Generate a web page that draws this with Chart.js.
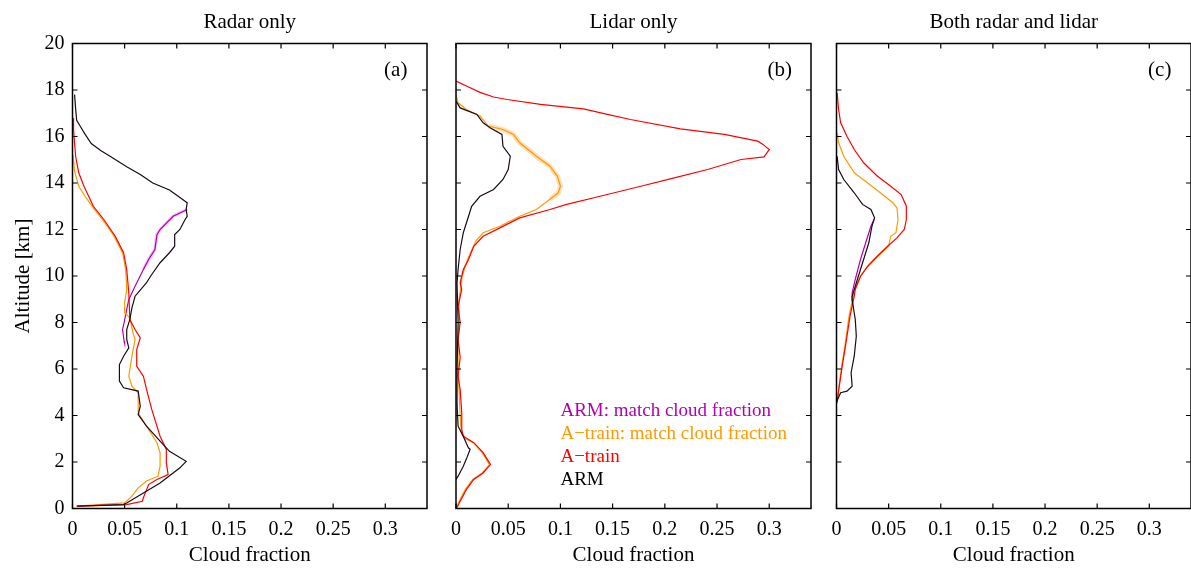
<!DOCTYPE html>
<html>
<head>
<meta charset="utf-8">
<title>Cloud fraction profiles</title>
<script src="https://cdn.jsdelivr.net/npm/chart.js@4.4.1/dist/chart.umd.min.js"></script>
<style>
  html, body { margin: 0; padding: 0; background: #fff; overflow: hidden; width: 1191px; height: 568px; }
  canvas { position: absolute; top: 0; }
</style>
</head>
<body>
<canvas id="radarChart" width="440" height="568" style="left:0px"></canvas>
<canvas id="lidarChart" width="384" height="568" style="left:440px"></canvas>
<canvas id="bothChart" width="384" height="568" style="left:820px"></canvas>
<script>
// Tick values
const altTicks = [0, 2, 4, 6, 8, 10, 12, 14, 16, 18, 20];
const cfTicks = [0, 0.05, 0.1, 0.15, 0.2, 0.25, 0.3];

// (a) Radar only: altitude [km] and cloud fraction
const radarArmAlt = [17.8, 17.2, 16.7, 16.4, 16.1, 15.7, 15.4, 15.15, 14.7, 14.37, 14.0, 13.7, 13.48, 13.15, 12.86, 12.57, 12.43, 12.0, 11.78, 11.28, 11.0, 10.57, 10.0, 9.71, 9.13, 8.63, 8.13, 7.7, 7.27, 6.91, 6.55, 6.19, 5.48, 5.19, 5.05, 4.4, 4.04, 3.54, 2.9, 2.46, 2.03, 1.75, 1.53, 1.1, 0.67, 0.24, 0.17, 0.1];
const radarArmCf = [0.002, 0.003, 0.004, 0.008, 0.012, 0.018, 0.027, 0.036, 0.052, 0.065, 0.077, 0.093, 0.0997, 0.110, 0.109, 0.110, 0.108, 0.103, 0.098, 0.098, 0.093, 0.084, 0.075, 0.071, 0.060, 0.057, 0.055, 0.052, 0.052, 0.054, 0.049, 0.045, 0.045, 0.049, 0.063, 0.065, 0.063, 0.071, 0.084, 0.093, 0.109, 0.103, 0.0965, 0.084, 0.068, 0.052, 0.049, 0.0045];
const radarArmMatchAlt = [12.86, 12.57, 12.0, 11.78, 11.14, 10.71, 10.28, 9.56, 8.99, 8.56, 7.99, 7.7, 7.2, 7.1];
const radarArmMatchCf = [0.110, 0.0965, 0.084, 0.081, 0.079, 0.073, 0.068, 0.060, 0.054, 0.052, 0.0495, 0.048, 0.0495, 0.050];
const radarAtrainAlt = [16.8, 16.3, 15.7, 15.15, 14.44, 13.86, 13.0, 12.43, 11.71, 11.0, 10.28, 9.28, 8.13, 7.7, 7.34, 6.84, 6.12, 5.69, 5.12, 4.26, 3.11, 2.54, 1.97, 1.46, 1.25, 1.03, 0.46, 0.31, 0.17, 0.1];
const radarAtrainCf = [0.0005, 0.001, 0.002, 0.003, 0.006, 0.011, 0.020, 0.030, 0.041, 0.049, 0.052, 0.054, 0.055, 0.060, 0.065, 0.0616, 0.0616, 0.068, 0.071, 0.076, 0.084, 0.090, 0.090, 0.0917, 0.081, 0.073, 0.068, 0.067, 0.052, 0.004];
const radarAtrainMatchAlt = [15.2, 14.5, 13.86, 13.43, 12.93, 12.29, 11.78, 11.0, 10.28, 9.42, 8.85, 8.42, 8.2, 7.56, 7.27, 6.55, 5.69, 5.26, 4.98, 4.12, 3.54, 2.83, 2.40, 1.82, 1.39, 1.18, 0.89, 0.53, 0.24, 0.1];
const radarAtrainMatchCf = [0.0005, 0.002, 0.006, 0.012, 0.020, 0.031, 0.039, 0.048, 0.051, 0.052, 0.050, 0.050, 0.055, 0.058, 0.060, 0.057, 0.054, 0.057, 0.063, 0.063, 0.071, 0.081, 0.084, 0.084, 0.082, 0.071, 0.063, 0.057, 0.050, 0.004];

// (b) Lidar only
const lidarAtrainAlt = [18.38, 18.17, 17.9, 17.7, 17.59, 17.38, 17.19, 16.95, 16.73, 16.33, 16.09, 15.8, 15.66, 15.44, 15.12, 15.01, 14.58, 14.22, 13.86, 13.43, 13.08, 12.86, 12.5, 12.07, 11.71, 11.28, 10.71, 10.28, 9.71, 9.42, 8.7, 8.0, 7.27, 6.5, 5.69, 5.12, 4.12, 3.4, 3.11, 2.83, 2.4, 1.89, 1.53, 1.25, 0.82, 0.31, 0.04];
const lidarAtrainCf = [0, 0.010, 0.023, 0.036, 0.049, 0.081, 0.122, 0.145, 0.167, 0.215, 0.257, 0.289, 0.294, 0.300, 0.295, 0.273, 0.241, 0.209, 0.177, 0.138, 0.106, 0.090, 0.061, 0.042, 0.026, 0.017, 0.012, 0.007, 0.004, 0.0055, 0.002, 0.004, 0.002, 0.004, 0.002, 0.004, 0.0055, 0.0055, 0.007, 0.017, 0.026, 0.033, 0.026, 0.017, 0.010, 0.004, 0.001];
const lidarAtrainMatchAlt = [17.8, 17.45, 17.16, 16.88, 16.45, 16.3, 16.09, 15.73, 15.15, 14.72, 14.3, 13.86, 13.58, 13.3, 12.86, 12.57, 12.14, 11.86, 11.5, 10.71, 10.0, 9.0, 8.0, 7.0, 6.0, 5.0, 4.0, 3.3, 3.0, 2.83, 2.4, 1.89, 1.53, 1.25, 0.82, 0.31, 0.0];
const lidarAtrainMatchCf = [0, 0.002, 0.010, 0.023, 0.031, 0.045, 0.055, 0.061, 0.077, 0.090, 0.097, 0.100, 0.098, 0.090, 0.077, 0.061, 0.042, 0.026, 0.019, 0.011, 0.006, 0.003, 0.003, 0.002, 0.002, 0.003, 0.004, 0.005, 0.009, 0.017, 0.025, 0.032, 0.025, 0.016, 0.009, 0.003, 0.0];
const lidarArmAlt = [17.52, 17.23, 16.95, 16.59, 16.37, 16.09, 15.58, 15.15, 14.58, 14.15, 13.72, 13.43, 13.0, 12.57, 11.86, 11.14, 10.28, 9.7, 8.0, 6.0, 4.5, 3.54, 3.1, 2.6, 2.55, 2.25, 1.82, 1.39, 1.25];
const lidarArmCf = [0, 0.004, 0.020, 0.026, 0.033, 0.044, 0.045, 0.052, 0.050, 0.045, 0.036, 0.023, 0.015, 0.012, 0.007, 0.004, 0.002, 0.001, 0.002, 0.001, 0.001, 0.002, 0.007, 0.012, 0.0135, 0.011, 0.007, 0.002, 0];

// (c) Both radar and lidar
const bothAtrainAlt = [17.88, 17.16, 16.59, 16.01, 15.44, 14.87, 14.3, 13.86, 13.5, 13.0, 12.43, 12.0, 11.64, 11.28, 10.85, 10.42, 9.99, 9.42, 9.13, 8.27, 6.98, 6.12, 5.12, 4.55];
const bothAtrainCf = [0.0006, 0.002, 0.004, 0.010, 0.017, 0.026, 0.039, 0.052, 0.062, 0.067, 0.067, 0.065, 0.058, 0.049, 0.039, 0.030, 0.023, 0.018, 0.017, 0.013, 0.0086, 0.0055, 0.0022, 0.0006];
const bothAtrainMatchAlt = [16.16, 15.73, 15.15, 14.44, 14.0, 13.58, 13.15, 12.93, 12.43, 11.86, 11.71, 11.28, 10.9, 10.42, 9.99, 9.42, 9.13, 8.27, 6.98, 6.12, 5.12, 4.55];
const bothAtrainMatchCf = [0.0006, 0.002, 0.007, 0.017, 0.030, 0.042, 0.054, 0.058, 0.059, 0.057, 0.052, 0.050, 0.041, 0.030, 0.023, 0.017, 0.016, 0.012, 0.008, 0.005, 0.002, 0.0006];
const bothArmAlt = [15.15, 14.58, 14.15, 13.58, 13.08, 12.86, 12.5, 12.14, 11.43, 10.71, 9.85, 9.13, 8.99, 8.13, 7.41, 6.55, 5.84, 5.26, 5.05, 4.98, 4.69, 4.6];
const bothArmCf = [0.0006, 0.002, 0.007, 0.017, 0.025, 0.033, 0.0365, 0.034, 0.031, 0.026, 0.020, 0.015, 0.015, 0.018, 0.019, 0.017, 0.014, 0.015, 0.010, 0.004, 0.001, 0];
const bothArmMatchAlt = [12.43, 12.14, 11.43, 10.71, 9.85, 9.27, 8.9];
const bothArmMatchCf = [0.036, 0.033, 0.028, 0.023, 0.018, 0.015, 0.015];

const COLORS = { armMatch: '#b000b0', atrainMatch: '#ff9900', atrain: '#ff0000', arm: '#1a0a1a' };
const SERIF = '"Liberation Serif", "Times New Roman", serif';

function profile(alt, cf) {
    return alt.map((a, i) => ({ x: cf[i], y: a }));
}

function line(alt, cf, color) {
    return { data: profile(alt, cf), borderColor: color, borderWidth: 1.2, pointRadius: 0, showLine: true, tension: 0, fill: false };
}

// light shading under a curve (uncertainty), only over part of the profile
function band(alt, cf, lo, hi, color, width) {
    const pts = profile(alt, cf).filter(p => p.y >= lo && p.y <= hi);
    return { data: pts, borderColor: color, borderWidth: width, pointRadius: 0, showLine: true, tension: 0, fill: false };
}

// box, inward ticks, panel title, panel letter and text legend
const framePlugin = {
    id: 'frame',
    afterDraw(chart, args, opts) {
        const { ctx, chartArea: a, scales: { x, y } } = chart;
        ctx.save();
        ctx.strokeStyle = '#000';
        ctx.lineWidth = 1.5;
        ctx.strokeRect(a.left, a.top, a.right - a.left, a.bottom - a.top);
        ctx.lineWidth = 1.2;
        ctx.beginPath();
        cfTicks.forEach(v => {
            const px = x.getPixelForValue(v);
            ctx.moveTo(px, a.bottom); ctx.lineTo(px, a.bottom - 5);
            ctx.moveTo(px, a.top); ctx.lineTo(px, a.top + 5);
        });
        altTicks.forEach(v => {
            const py = y.getPixelForValue(v);
            ctx.moveTo(a.left, py); ctx.lineTo(a.left + 5, py);
            ctx.moveTo(a.right, py); ctx.lineTo(a.right - 5, py);
        });
        ctx.stroke();

        ctx.fillStyle = '#000';
        ctx.textAlign = 'center';
        ctx.textBaseline = 'alphabetic';
        ctx.font = '21px ' + SERIF;
        ctx.fillText(opts.title, (a.left + a.right) / 2, 28);
        ctx.fillText(opts.letter, x.getPixelForValue(0.31), y.getPixelForValue(18.6));

        if (opts.legend) {
            ctx.textAlign = 'left';
            ctx.font = '19px ' + SERIF;
            opts.legend.forEach((item, i) => {
                ctx.fillStyle = item.color;
                ctx.fillText(item.text, x.getPixelForValue(0.1), y.getPixelForValue(4 - i));
            });
        }
        ctx.restore();
    }
};

function makeChart(id, datasets, o) {
    return new Chart(document.getElementById(id), {
        type: 'scatter',
        data: { datasets },
        options: {
            responsive: false,
            animation: false,
            events: [],
            layout: { padding: { top: 43.5, right: 13, left: 0, bottom: 0 } },
            plugins: {
                legend: { display: false },
                tooltip: { enabled: false },
                frame: { title: o.title, letter: o.letter, legend: o.legend }
            },
            scales: {
                x: {
                    type: 'linear',
                    position: 'bottom',
                    min: 0,
                    max: 0.34,
                    afterBuildTicks: s => { s.ticks = cfTicks.map(v => ({ value: v })); },
                    afterFit: s => { s.height = 59.5; },
                    grid: { display: false, drawTicks: false },
                    border: { display: false },
                    ticks: {
                        color: '#000', padding: 9.5, maxRotation: 0, autoSkip: false,
                        font: { family: SERIF, size: 20 },
                        callback: v => String(+Number(v).toFixed(2))
                    },
                    title: {
                        display: true, text: 'Cloud fraction', color: '#000',
                        font: { family: SERIF, size: 21 }, padding: { top: 0, bottom: 0 }
                    }
                },
                y: {
                    type: 'linear',
                    position: 'left',
                    min: 0,
                    max: 20,
                    afterBuildTicks: s => { s.ticks = altTicks.map(v => ({ value: v })); },
                    afterFit: s => { s.width = o.yWidth; },
                    grid: { display: false, drawTicks: false },
                    border: { display: false },
                    ticks: {
                        display: o.yLabels, color: '#000', padding: 8, autoSkip: false,
                        font: { family: SERIF, size: 20 }
                    },
                    title: {
                        display: o.yLabels, text: 'Altitude [km]', color: '#000',
                        font: { family: SERIF, size: 21 }, padding: { top: 10.5, bottom: 0 }
                    }
                }
            }
        },
        plugins: [framePlugin]
    });
}

// dataset 0 is drawn on top, so ARM goes first
makeChart('radarChart', [
    line(radarArmAlt, radarArmCf, COLORS.arm),
    line(radarAtrainAlt, radarAtrainCf, COLORS.atrain),
    line(radarAtrainMatchAlt, radarAtrainMatchCf, COLORS.atrainMatch),
    line(radarArmMatchAlt, radarArmMatchCf, COLORS.armMatch),
    band(radarArmMatchAlt, radarArmMatchCf, 10, 12.9, 'rgba(190, 80, 190, 0.3)', 3.5)
], { title: 'Radar only', letter: '(a)', yLabels: true, yWidth: 72.5 });

makeChart('lidarChart', [
    line(lidarArmAlt, lidarArmCf, COLORS.arm),
    line(lidarAtrainAlt, lidarAtrainCf, COLORS.atrain),
    line(lidarAtrainMatchAlt, lidarAtrainMatchCf, COLORS.atrainMatch),
    band(lidarAtrainMatchAlt, lidarAtrainMatchCf, 12.9, 16.5, 'rgba(255, 185, 90, 0.45)', 5)
], {
    title: 'Lidar only', letter: '(b)', yLabels: false, yWidth: 16,
    legend: [
        { text: 'ARM: match cloud fraction', color: COLORS.armMatch },
        { text: 'A\u2212train: match cloud fraction', color: COLORS.atrainMatch },
        { text: 'A\u2212train', color: COLORS.atrain },
        { text: 'ARM', color: '#000' }
    ]
});

makeChart('bothChart', [
    line(bothArmAlt, bothArmCf, COLORS.arm),
    line(bothAtrainAlt, bothAtrainCf, COLORS.atrain),
    line(bothAtrainMatchAlt, bothAtrainMatchCf, COLORS.atrainMatch),
    line(bothArmMatchAlt, bothArmMatchCf, COLORS.armMatch)
], { title: 'Both radar and lidar', letter: '(c)', yLabels: false, yWidth: 16.5 });
</script>
</body>
</html>
